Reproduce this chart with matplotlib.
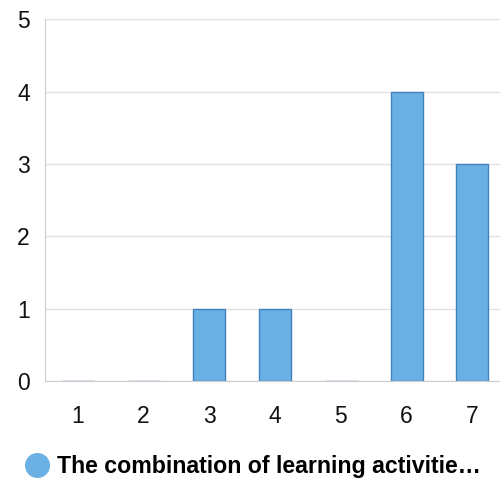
import matplotlib.pyplot as plt
from matplotlib.lines import Line2D

categories = ['1', '2', '3', '4', '5', '6', '7']
values = [0, 0, 1, 1, 0, 4, 3]
series_name = 'The combination of learning activitie\u2026'

plt.rcParams['font.family'] = ['Liberation Sans', 'DejaVu Sans']

fig = plt.figure(figsize=(5.0, 4.79), dpi=100)
ax = fig.add_axes([0.09, 0.2046, 0.91, 0.7547])

x = list(range(1, len(categories) + 1))
ax.bar(x, values, width=0.49, color='#6ab0e4', edgecolor='#3f82c0', linewidth=1.0, zorder=3)

ax.set_xlim(0.5, 7.42)
ax.set_ylim(0, 5)
ax.set_yticks(range(6))
ax.set_xticks(x)
ax.set_xticklabels(categories)
ax.tick_params(axis='both', length=0, labelsize=16.5, colors='#111111')
ax.tick_params(axis='x', pad=17)
ax.tick_params(axis='y', pad=11)
ax.grid(axis='y', color='#e2e2e2', linewidth=1.0, zorder=0)
for s in ['top', 'right']:
    ax.spines[s].set_visible(False)
ax.spines['left'].set_color('#cccccc')
ax.spines['bottom'].set_color('#cccccc')
ax.spines['bottom'].set_zorder(4)

# legend
fig.add_artist(Line2D([37 / 500], [1 - 465 / 479], marker='o', markersize=17,
                      color='#6ab0e4', markeredgecolor='#6ab0e4', linestyle='none',
                      transform=fig.transFigure))
fig.text(57 / 500, 1 - 466 / 479, series_name, fontsize=16.7, fontweight='bold',
         va='center', ha='left', color='#000000')

fig.savefig('out.png', dpi=100)
